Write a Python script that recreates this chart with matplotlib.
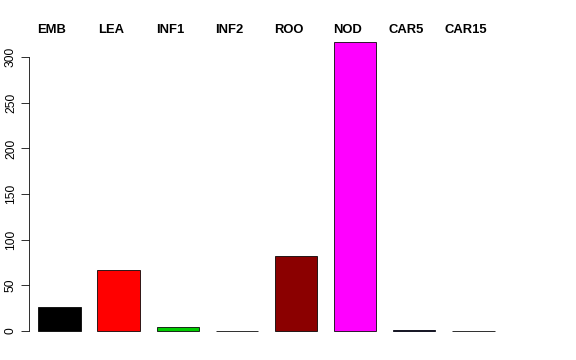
import matplotlib
matplotlib.use("Agg")
import matplotlib.pyplot as plt
import numpy as np

categories = ["EMB", "LEA", "INF1", "INF2", "ROO", "NOD", "CAR5", "CAR15"]
values = [26.5, 66.5, 4.5, 0.4, 82, 316, 1.6, 0.4]
colors = ["#000000", "#FF0000", "#00CD00", "#000000", "#8B0000", "#FF00FF", "#00008B", "#000000"]
yticks = [0, 50, 100, 150, 200, 250, 300]

W, H = 576, 360
fig = plt.figure(figsize=(W / 72, H / 72), dpi=72)
plt.rcParams['font.family'] = ['Liberation Sans', 'DejaVu Sans']

# axes in pixel coordinates
left_px, right_px, top_px, bottom_px = 29, 560, 32, 343
ax = fig.add_axes([left_px / W, 1 - bottom_px / H, (right_px - left_px) / W, (bottom_px - top_px) / H])

pitch = 59.14
c0 = 59.5
ppu = 0.913
y0 = 331
ax.set_xlim((left_px - c0) / pitch, (right_px - c0) / pitch)
ax.set_ylim(-(bottom_px - y0) / ppu, (y0 - top_px) / ppu)

x = np.arange(len(categories))
ax.bar(x, values, width=0.715, color=colors, edgecolor="#000000", linewidth=0.8)

for xi, lab in zip(x, categories):
    ax.text(xi - 0.13, (y0 - 33.5) / ppu, lab, ha="center", va="baseline",
            fontsize=13, fontweight="bold", clip_on=False)

for s in ["top", "right", "bottom"]:
    ax.spines[s].set_visible(False)
ax.spines["left"].set_bounds(0, 300)
ax.spines["left"].set_linewidth(0.8)
ax.set_yticks(yticks)
ax.set_yticklabels([str(t) for t in yticks], rotation=90, va="center", fontsize=12)
ax.tick_params(axis="y", length=8, width=0.8, pad=4)
ax.set_xticks([])

fig.savefig("out.png", dpi=72)
